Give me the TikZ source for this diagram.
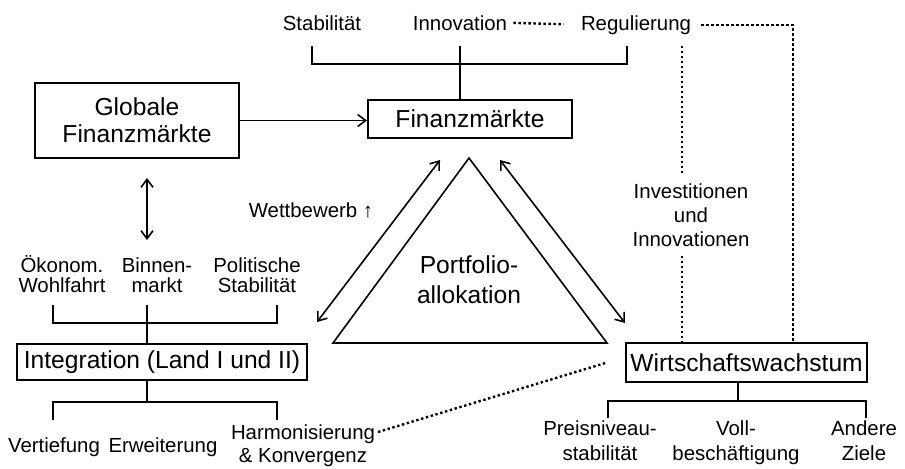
\documentclass[tikz,border=0pt]{standalone}
\usepackage{fontspec}
\setmainfont{Liberation Sans}
\usepackage{tikz}
\usetikzlibrary{arrows.meta,calc}
\newcommand{\boxfont}{\fontsize{12.3}{13.5}\selectfont}
\newcommand{\lblfont}{\fontsize{10.2}{12.5}\selectfont}

\begin{document}
\begin{tikzpicture}[x=0.5pt,y=-0.5pt,
		box/.style={draw,line width=1pt,inner sep=0pt,align=center,font=\boxfont},
		lbl/.style={anchor=base,align=center,inner sep=0pt,font=\lblfont},
		line/.style={line width=0.8pt},
		dots/.style={line width=1.2pt,dash pattern=on 1.2pt off 1.3pt},
		arr/.style={line width=0.8pt,{Straight Barb[length=4pt,width=6pt]}-{Straight Barb[length=4pt,width=6pt]}},
		]
		\useasboundingbox (0,0) rectangle (905,468);

		\node[box,minimum width=102pt,minimum height=37.5pt](glob) at (137,120.5) {Globale\\Finanzmärkte};
		\node[box,minimum width=102pt,minimum height=19pt  ](fin) at (470,119) {Finanzmärkte};
		\node[box,minimum width=145pt,minimum height=18pt  ](integ) at (162,362) {Integration (Land I und II)};
		\node[box,minimum width=120.5pt,minimum height=19.5pt](wachs) at (746.5,362.5) {Wirtschaftswachstum};

		% multi-line labels sit on the baseline of their last line
		\node[lbl](stab) at (322,30) {Stabilität};
		\node[lbl](innov) at (460,30) {Innovation};
		\node[lbl](regul) at (636,30) {Regulierung};
		\node[lbl,font=\fontsize{10.2}{12}\selectfont](invest) at (691,246) {Investitionen\\und\\Innovationen};
		\node[lbl](wett) at (311,217) {Wettbewerb ↑};
		\node[lbl,font=\fontsize{12.3}{15}\selectfont](portf) at (469,303) {Portfolio-\\allokation};
		\node[lbl,font=\fontsize{10.2}{10}\selectfont](oeko) at (62,292) {Ökonom.\\Wohlfahrt};
		\node[lbl,font=\fontsize{10.2}{10}\selectfont](binnen) at (157,292) {Binnen-\\markt};
		\node[lbl,font=\fontsize{10.2}{10}\selectfont](polit) at (257,292) {Politische\\Stabilität};
		\node[lbl](vert) at (54,452) {Vertiefung};
		\node[lbl](erw) at (163,452) {Erweiterung};
		\node[lbl,font=\fontsize{10.2}{11.5}\selectfont](harm) at (303,462) {Harmonisierung\\\& Konvergenz};
		\node[lbl](preis) at (600,460) {Preisniveau-\\stabilität};
		\node[lbl](voll) at (736,460) {Voll-\\beschäftigung};
		\node[lbl](andere) at (864,460) {Andere\\Ziele};

		\coordinate (tl) at (312,46);
		\coordinate (tr) at (627,46);
		\coordinate (ul) at (53,305);
		\coordinate (um) at (147,305);
		\coordinate (ur) at (277,305);
		\coordinate (ll) at (53,420);
		\coordinate (lr) at (277,420);
		\coordinate (rl) at (608,418);
		\coordinate (rm) at (738,401);
		\coordinate (rr) at (866,418);
		\coordinate (ta) at (469,158);
		\coordinate (tb) at (333,343);
		\coordinate (tc) at (607,343);
		\coordinate (vd) at (682,46);
		\coordinate (cr) at (793,0);
		\coordinate (hd) at (378,432);

		\draw[line] (tl) -- ++(0,18) -| (tr);
		\draw[line] (innov |- tl) -- (innov |- fin.north);
		\draw[line] (ul) -- ++(0,18) -| (ur);
		\draw[line] (um) -- (um |- integ.north);
		\draw[line] (um |- integ.south) -- ($(um)+(0,97)$);
		\draw[line] (ll) -- ++(0,-18) -| (lr);
		\draw[line] (rm |- wachs.south) -- (rm);
		\draw[line] (rl) -- ++(0,-17) -| (rr);

		\draw[line] (ta) -- (tb) -- (tc) -- cycle;

		\draw[line,-{Straight Barb[length=4pt,width=6pt]}] (glob.east) -- (glob.east -| fin.west);
		\draw[arr] ($(glob.south -| um)+(0,19)$) -- ($(um)+(0,-65)$);
		\draw[arr] (317,322) -- (440,160);
		\draw[arr] (500,160) -- (625,323);

		\draw[dots,shorten <=3pt,shorten >=8.5pt] (innov.east) -- (regul.west);
		\draw[dots,shorten <=5pt] (regul.east) -| (cr |- wachs.north);
		\draw[dots,shorten >=4pt] (vd) -- (vd |- invest.north);
		\draw[dots,shorten <=4.5pt] (vd |- invest.south) -- (vd |- wachs.north);
		\draw[dots] (hd) -- ([xshift=-9pt]wachs.west);
\end{tikzpicture}
\end{document}
